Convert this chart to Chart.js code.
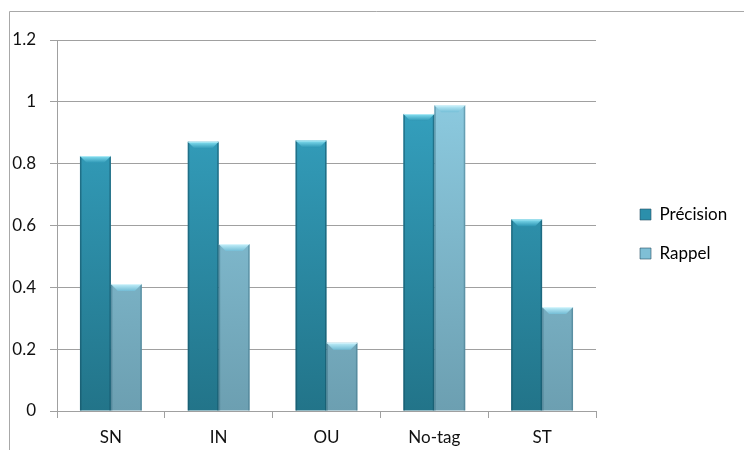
<!DOCTYPE html>
<html>
<head>
<meta charset="utf-8">
<script src="https://cdn.jsdelivr.net/npm/chart.js@4/dist/chart.umd.min.js"></script>
<style>
  html, body { margin: 0; padding: 0; background: #ffffff; }
  #wrap { position: relative; width: 744px; height: 450px; }
</style>
</head>
<body>
<div id="wrap"><canvas id="c" width="744" height="450"></canvas></div>
<script>
// Categories and series
const categories = ['SN', 'IN', 'OU', 'No-tag', 'ST'];
const precision = [0.825, 0.871, 0.875, 0.961, 0.620];
const rappel = [0.411, 0.540, 0.221, 0.989, 0.336];
const yTickLabels = ['0', '0.2', '0.4', '0.6', '0.8', '1', '1.2'];

const FONT = 'Lato, "Open Sans", sans-serif';

// Vertical gradient across the plot area for each series
function barFill(top, bottom) {
  return function (ctx) {
    const area = ctx.chart.chartArea;
    if (!area) return top;
    const g = ctx.chart.ctx.createLinearGradient(0, area.top, 0, area.bottom);
    g.addColorStop(0, top);
    g.addColorStop(1, bottom);
    return g;
  };
}

// Bevelled look: darker side edges and a lighter cap on each bar
const bevelPlugin = {
  id: 'bevel',
  afterDatasetsDraw(chart) {
    const c = chart.ctx;
    const styles = [
      { edge: 'rgba(20,80,100,0.55)', cap: '#8ae4f5', capDark: 'rgba(45,150,180,0.9)' },
      { edge: 'rgba(60,110,130,0.45)', cap: '#c6f2fc', capDark: 'rgba(115,190,215,0.9)' }
    ];
    chart.data.datasets.forEach((ds, di) => {
      const meta = chart.getDatasetMeta(di);
      const st = styles[di];
      meta.data.forEach((bar) => {
        const { x, y, base, width } = bar.getProps(['x', 'y', 'base', 'width'], true);
        const l = x - width / 2, r = x + width / 2;
        const h = base - y;
        c.save();
        // side edges
        c.fillStyle = st.edge;
        c.fillRect(l, y, 1.5, h);
        c.fillRect(r - 1.5, y, 1.5, h);
        // top cap (trapezoid)
        const capH = Math.min(7, h / 2);
        c.beginPath();
        c.moveTo(l, y);
        c.lineTo(r, y);
        c.lineTo(r - capH, y + capH);
        c.lineTo(l + capH, y + capH);
        c.closePath();
        const g = c.createLinearGradient(0, y, 0, y + capH);
        g.addColorStop(0, st.cap);
        g.addColorStop(1, st.capDark);
        c.fillStyle = g;
        c.fill();
        c.fillStyle = 'rgba(255,255,255,0.35)';
        c.fillRect(l, y, width, 1);
        c.restore();
      });
    });
  }
};

// Thin frame along the top and left of the canvas
const framePlugin = {
  id: 'frame',
  beforeDraw(chart) {
    const c = chart.ctx;
    c.save();
    c.strokeStyle = '#a8a8a8';
    c.lineWidth = 1;
    c.beginPath();
    c.moveTo(9.5, chart.height);
    c.lineTo(9.5, 11.5);
    c.lineTo(chart.width, 11.5);
    c.stroke();
    c.restore();
  }
};

// Legend placement to the right of the plot
const legendPlace = {
  id: 'legendPlace',
  beforeLayout(chart) {
    const lg = chart.legend;
    if (lg && !lg._fixedFit) {
      const fit = lg.fit.bind(lg);
      lg.fit = function () { fit(); this.width = 148; };
      lg._fixedFit = true;
    }
  },
  afterLayout(chart) {
    const lg = chart.legend;
    if (!lg) return;
    const w = lg.right - lg.left;
    const pad = lg.options.labels.padding;
    lg.left = 640 - pad;
    lg.right = lg.left + w;
    const h = lg.bottom - lg.top;
    lg.top = 206 - pad;
    lg.bottom = lg.top + h;
  }
};

new Chart(document.getElementById('c'), {
  type: 'bar',
  data: {
    labels: categories,
    datasets: [
      {
        label: 'Précision',
        data: precision,
        backgroundColor: barFill('#38a9c9', '#227489'),
        borderWidth: 0
      },
      {
        label: 'Rappel',
        data: rappel,
        backgroundColor: barFill('#92d2e8', '#6c9fb1'),
        borderWidth: 0
      }
    ]
  },
  options: {
    responsive: false,
    animation: false,
    devicePixelRatio: 1,
    layout: { padding: { top: 40, left: 0, bottom: 0, right: 0 } },
    datasets: { bar: { categoryPercentage: 0.574, barPercentage: 1.0 } },
    plugins: {
      title: { display: false },
      tooltip: { enabled: false },
      legend: {
        position: 'right',
        align: 'start',
        labels: {
          font: { family: FONT, size: 17 },
          color: '#111111',
          boxWidth: 11,
          boxHeight: 11,
          padding: 22,
          generateLabels(chart) {
            const cols = ['#2b8fab', '#7fbfd6'];
            return chart.data.datasets.map((ds, i) => ({
              text: ds.label,
              fillStyle: cols[i],
              strokeStyle: 'rgba(40,80,100,0.6)',
              lineWidth: 1,
              hidden: false,
              datasetIndex: i
            }));
          }
        }
      }
    },
    scales: {
      x: {
        afterFit(scale) { scale.height = 39; },
        grid: { display: true, drawOnChartArea: false, drawTicks: true, tickLength: 7, color: '#a0a0a0', offset: true },
        border: { display: true, color: '#a0a0a0', width: 1 },
        ticks: { font: { family: FONT, size: 17 }, color: '#111111', padding: 9 }
      },
      y: {
        min: 0,
        max: 1.2,
        afterFit(scale) { scale.width = 57; },
        grid: { color: '#a0a0a0', lineWidth: 1, tickLength: 7, drawTicks: true },
        border: { display: true, color: '#a0a0a0', width: 1 },
        ticks: {
          stepSize: 0.2,
          font: { family: FONT, size: 17 },
          color: '#111111',
          padding: 14,
          callback: (v, i) => yTickLabels[i]
        }
      }
    }
  },
  plugins: [framePlugin, legendPlace, bevelPlugin]
});
</script>
</body>
</html>
